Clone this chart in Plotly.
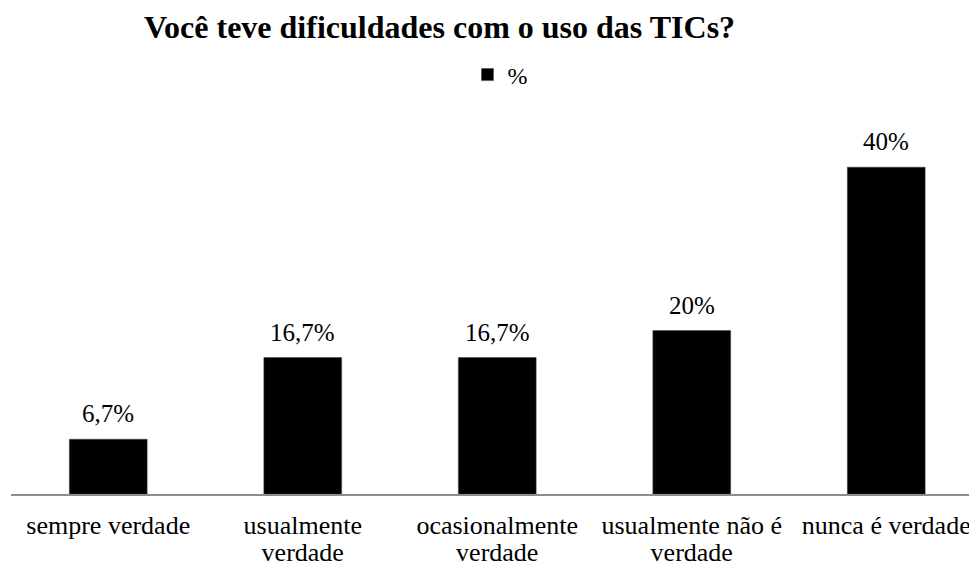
import plotly.graph_objects as go

categories = ["sempre verdade", "usualmente<br>verdade", "ocasionalmente<br>verdade",
              "usualmente não é<br>verdade", "nunca é verdade"]
values = [6.7, 16.7, 16.7, 20, 40]
labels = [f"{v:g}".replace(".", ",") + "%" for v in values]
series_name = "%"
title = "Você teve dificuldades com o uso das TICs?"

line1 = [c.split("<br>")[0] for c in categories]
line2 = [c.split("<br>")[1] if "<br>" in c else "" for c in categories]

FONT = "Liberation Serif"
W, H = 977, 567
OFF = 8  # page body margin offset
L, R, T, B = 3, 0, 92, 81
unit = 194.5
xmax = (W - L - R) / unit - 0.5
ppu = 8.17
idx = list(range(len(categories)))

fig = go.Figure()
fig.add_trace(go.Bar(
    x=idx, y=values, name=series_name,
    marker=dict(color="black", line=dict(color="#404040", width=0.5)),
    showlegend=True, cliponaxis=False,
))
fig.add_trace(go.Scatter(x=idx, y=[None] * len(idx), xaxis="x2", mode="markers",
                         showlegend=False, hoverinfo="skip"))
for i, (v, t) in enumerate(zip(values, labels)):
    fig.add_annotation(x=i, y=v, text=t, showarrow=False, yanchor="bottom",
                       yshift=10, font=dict(family=FONT, size=25, color="black"))

tickfont = dict(family=FONT, size=26, color="black")
fig.update_layout(
    width=W, height=H,
    margin=dict(l=L, r=R, t=T, b=B, autoexpand=False),
    paper_bgcolor="white", plot_bgcolor="white",
    bargap=0.6,
    font=dict(family=FONT, color="black"),
    title=dict(text="<b>" + title + "</b>", x=(439.5 - OFF) / W, xanchor="center",
               xref="container", y=1 - (27 - OFF) / H, yanchor="middle", yref="container",
               font=dict(family=FONT, size=32, color="black")),
    legend=dict(orientation="h", x=(500 - OFF - L) / (W - L - R), xanchor="center",
                y=1 + (T - (75 - OFF)) / (H - T - B), yanchor="middle",
                font=dict(family=FONT, size=24, color="black"),
                itemwidth=30, bgcolor="rgba(0,0,0,0)"),
    xaxis=dict(tickmode="array", tickvals=idx, ticktext=line1,
               range=[-0.5, xmax], automargin=False,
               showline=True, linecolor="#8c8c8c", linewidth=1.5,
               ticks="", showgrid=False, zeroline=False,
               tickfont=tickfont, ticklabelstandoff=7),
    xaxis2=dict(tickmode="array", tickvals=idx, ticktext=line2,
                range=[-0.5, xmax], automargin=False, overlaying="x", side="bottom",
                anchor="y", showline=False, ticks="", showgrid=False, zeroline=False,
                tickfont=tickfont, ticklabelstandoff=40),
    yaxis=dict(range=[0, (H - T - B) / ppu], visible=False, showgrid=False,
               zeroline=False, automargin=False),
)

fig.write_html("out.html")
